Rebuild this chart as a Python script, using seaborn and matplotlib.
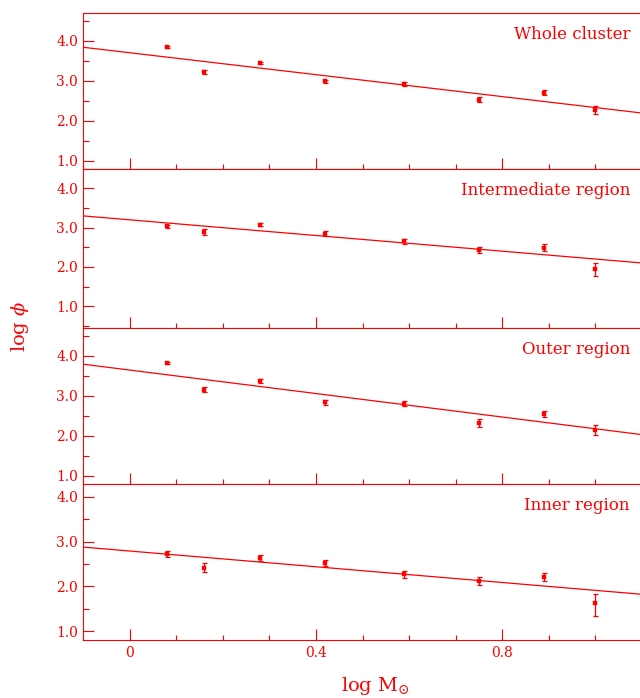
import numpy as np
import matplotlib
matplotlib.use("Agg")
import matplotlib.pyplot as plt
from matplotlib.ticker import MultipleLocator
import seaborn as sns

# Mass bins (log M / M_sun)
log_mass = [0.08, 0.16, 0.28, 0.42, 0.59, 0.75, 0.89, 1.00]

# Region names, top to bottom
regions = ["Whole cluster", "Intermediate region", "Outer region", "Inner region"]

# log phi per region and its uncertainty
whole_phi = [3.84, 3.22, 3.44, 2.99, 2.92, 2.53, 2.70, 2.27]
whole_err = [0.02, 0.05, 0.025, 0.04, 0.05, 0.067, 0.06, 0.10]

inter_phi = [3.03, 2.89, 3.08, 2.85, 2.65, 2.43, 2.49, 1.94]
inter_err = [0.05, 0.065, 0.03, 0.055, 0.06, 0.07, 0.085, 0.17]

outer_phi = [3.81, 3.15, 3.36, 2.83, 2.80, 2.32, 2.54, 2.14]
outer_err = [0.02, 0.055, 0.05, 0.055, 0.055, 0.095, 0.075, 0.125]

inner_phi = [2.72, 2.42, 2.63, 2.53, 2.27, 2.12, 2.21, 1.63]
inner_err_lo = [0.067, 0.093, 0.06, 0.067, 0.074, 0.097, 0.093, 0.30]
inner_err_hi = [0.067, 0.093, 0.06, 0.067, 0.074, 0.097, 0.093, 0.19]

# Linear fits: log phi = intercept + slope * log M
fit_intercept = [3.70, 3.20, 3.64, 2.79]
fit_slope = [-1.37, -1.00, -1.47, -0.88]

# Vertical range of each panel
y_limits = [(0.8, 4.7), (0.45, 4.5), (0.8, 4.7), (0.8, 4.3)]

x_ticks = [0.0, 0.4, 0.8]
x_tick_labels = ["0", "0.4", "0.8"]
y_ticks = [1.0, 2.0, 3.0, 4.0]
y_tick_labels = ["1.0", "2.0", "3.0", "4.0"]

sns.set_style("ticks")
plt.rcParams["font.family"] = ["DejaVu Serif"]
plt.rcParams["mathtext.fontset"] = "dejavuserif"

RED = "#ff0000"
W, H = 640, 698
fig = plt.figure(figsize=(W / 100, H / 100), dpi=100)

tops = [12.7, 168.8, 327.7, 483.5]
bottoms = [168.8, 327.7, 483.5, 640.0]
left_px, right_px = 83, 642

phis = [whole_phi, inter_phi, outer_phi, inner_phi]
errs = [whole_err, inter_err, outer_err, [inner_err_lo, inner_err_hi]]

for i in range(4):
    top, bot = tops[i], bottoms[i]
    ax = fig.add_axes([left_px / W, 1 - bot / H, (right_px - left_px) / W, (bot - top) / H])
    ax.set_facecolor("white")

    ax.errorbar(log_mass, phis[i], yerr=errs[i], fmt="none", ecolor=RED,
                elinewidth=0.9, capsize=1.8, capthick=0.9, zorder=3)
    sns.scatterplot(x=log_mass, y=phis[i], ax=ax, marker="s", s=5,
                    color=RED, edgecolor=RED, linewidth=0.3, zorder=4)
    ax.axline((0, fit_intercept[i]), slope=fit_slope[i], color=RED, lw=0.9)

    ax.set_xlim(-0.1, 1.1)
    ax.set_ylim(*y_limits[i])
    ax.xaxis.set_minor_locator(MultipleLocator(0.1))
    ax.yaxis.set_minor_locator(MultipleLocator(0.5))
    ax.set_yticks(y_ticks, y_tick_labels)
    if i == 3:
        ax.set_xticks(x_ticks, x_tick_labels)
    else:
        ax.set_xticks(x_ticks, [""] * len(x_ticks))

    ax.tick_params(which="both", direction="in", color=RED, labelcolor=RED,
                   width=0.8, top=False, right=False, labelsize=10)
    ax.tick_params(axis="y", which="major", length=8, pad=3.5)
    ax.tick_params(axis="y", which="minor", length=4.3)
    ax.tick_params(axis="x", which="major", length=8, pad=4)
    ax.tick_params(axis="x", which="minor", length=3.6)

    for side in ["left", "bottom", "top"]:
        ax.spines[side].set_color(RED)
        ax.spines[side].set_linewidth(0.8)
    ax.spines["right"].set_visible(False)

    height_px = bot - top
    ax.text(1 - 12 / (right_px - left_px), 1 - 26 / height_px, regions[i],
            transform=ax.transAxes, ha="right", va="baseline",
            fontsize=12, color=RED)

fig.text(375 / W, 1 - 691 / H, r"log M$_{\odot}$", ha="center", va="baseline",
         fontsize=14, color=RED)
fig.text(20 / W, 1 - 326 / H, r"log $\phi$", rotation=90, ha="center",
         va="center", fontsize=14, color=RED)

fig.savefig("out.png", dpi=100, facecolor="white")
